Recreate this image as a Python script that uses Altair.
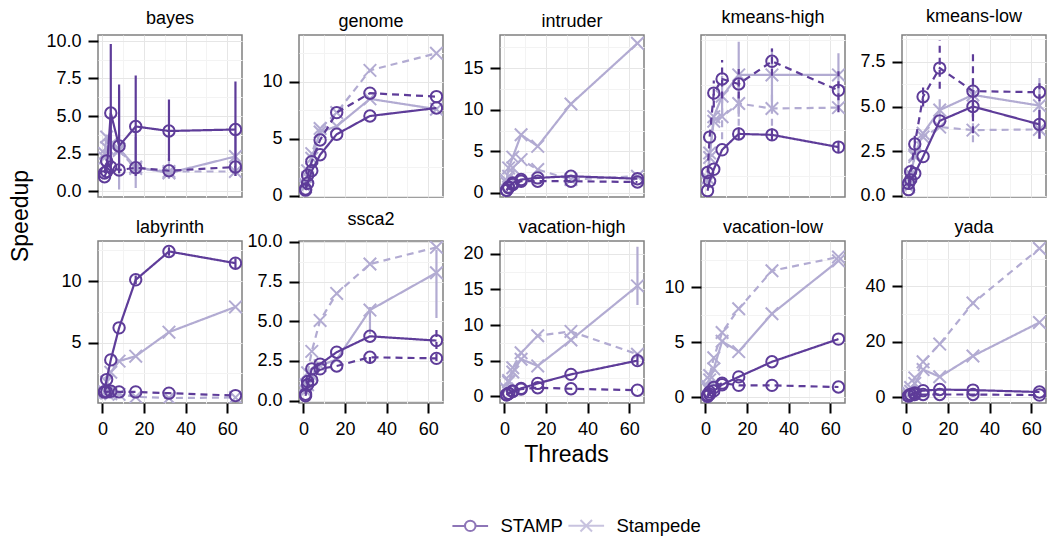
import math
import altair as alt
import pandas as pd

# ---------------- data ----------------
THREADS = [1, 2, 4, 8, 16, 32, 64]
BENCHMARKS = ["bayes", "genome", "intruder", "kmeans-high", "kmeans-low",
              "labyrinth", "ssca2", "vacation-high", "vacation-low", "yada"]
SYSTEMS = ["STAMP", "Stampede"]
CONFIGS = ["first", "second"]          # drawn solid / dashed

bayes = {
    "STAMP first":     [0.95, 1.3, 5.2, 3.0, 4.3, 4.0, 4.1],
    "STAMP second":    [1.2, 2.0, 1.6, 1.4, 1.55, 1.35, 1.6],
    "Stampede first":  [2.5, 3.6, 3.1, 2.8, 1.6, 1.2, 2.3],
    "Stampede second": [2.2, 2.9, 3.0, 2.7, 1.5, 1.3, 1.3],
}
genome = {
    "STAMP first":     [0.5, 1.1, 2.2, 3.6, 5.4, 7.0, 7.7],
    "STAMP second":    [0.6, 1.8, 3.0, 4.9, 7.3, 9.0, 8.7],
    "Stampede first":  [0.8, 1.6, 3.3, 5.6, 6.1, 8.5, 7.6],
    "Stampede second": [1.0, 2.2, 3.7, 5.9, 7.3, 11.0, 12.5],
}
intruder = {
    "STAMP first":     [0.3, 0.7, 1.2, 1.6, 1.8, 2.0, 1.7],
    "STAMP second":    [0.3, 0.6, 1.0, 1.4, 1.4, 1.4, 1.3],
    "Stampede first":  [1.5, 3.0, 4.3, 7.0, 5.6, 10.7, 18.0],
    "Stampede second": [1.2, 2.0, 3.0, 4.0, 2.8, 1.6, 2.0],
}
kmeans_high = {
    "STAMP first":     [0.17, 0.38, 0.64, 1.07, 1.42, 1.40, 1.13],
    "STAMP second":    [0.57, 1.35, 2.32, 2.63, 2.52, 3.02, 2.38],
    "Stampede first":  [0.35, 0.9, 1.8, 2.25, 2.72, 2.72, 2.72],
    "Stampede second": [0.45, 1.0, 1.7, 1.8, 2.09, 1.98, 2.0],
}
kmeans_low = {
    "STAMP first":     [0.35, 0.9, 1.25, 2.2, 4.2, 5.0, 4.0],
    "STAMP second":    [0.7, 1.35, 2.9, 5.55, 7.15, 5.86, 5.8],
    "Stampede first":  [0.5, 1.1, 2.3, 3.5, 4.8, 5.65, 5.05],
    "Stampede second": [0.6, 1.2, 2.2, 3.3, 3.85, 3.68, 3.72],
}
labyrinth = {
    "STAMP first":     [1.0, 2.0, 3.6, 6.2, 10.1, 12.4, 11.45],
    "STAMP second":    [1.0, 1.0, 1.05, 1.0, 1.0, 0.9, 0.7],
    "Stampede first":  [1.0, 1.8, 2.6, 3.5, 3.9, 5.85, 7.9],
    "Stampede second": [1.0, 0.9, 0.85, 0.8, 0.6, 0.5, 0.55],
}
ssca2 = {
    "STAMP first":     [0.3, 1.0, 2.0, 2.3, 3.05, 4.05, 3.78],
    "STAMP second":    [0.4, 1.2, 1.3, 2.0, 2.18, 2.73, 2.66],
    "Stampede first":  [0.6, 1.0, 1.6, 2.2, 2.6, 5.7, 8.05],
    "Stampede second": [1.0, 1.75, 3.1, 5.05, 6.75, 8.6, 9.65],
}
vacation_high = {
    "STAMP first":     [0.2, 0.4, 0.7, 1.1, 1.8, 3.07, 5.0],
    "STAMP second":    [0.2, 0.4, 0.7, 1.0, 1.2, 1.05, 0.85],
    "Stampede first":  [1.0, 2.0, 3.4, 5.2, 4.26, 7.9, 15.5],
    "Stampede second": [1.0, 2.2, 4.0, 6.1, 8.5, 9.1, 5.9],
}
vacation_low = {
    "STAMP first":     [0.1, 0.3, 0.6, 1.16, 1.87, 3.24, 5.3],
    "STAMP second":    [0.2, 0.5, 0.9, 1.3, 1.1, 1.1, 0.95],
    "Stampede first":  [0.8, 1.6, 2.6, 5.1, 4.16, 7.6, 12.4],
    "Stampede second": [1.0, 2.0, 3.6, 5.9, 8.05, 11.5, 12.75],
}
yada = {
    "STAMP first":     [0.5, 1.0, 1.6, 2.4, 2.8, 2.6, 1.9],
    "STAMP second":    [0.5, 0.8, 1.0, 1.0, 1.0, 1.0, 0.8],
    "Stampede first":  [1.0, 2.2, 5.0, 10.0, 7.4, 14.9, 27.0],
    "Stampede second": [1.5, 3.5, 7.0, 12.8, 19.2, 34.0, 53.7],
}
SPEEDUP = {
    "bayes": bayes, "genome": genome, "intruder": intruder,
    "kmeans-high": kmeans_high, "kmeans-low": kmeans_low,
    "labyrinth": labyrinth, "ssca2": ssca2, "vacation-high": vacation_high,
    "vacation-low": vacation_low, "yada": yada,
}

# error bars (low, high); None = bar hidden inside the marker
bayes_err = {
    "STAMP first":    [None, None, (1.0, 9.8), (1.2, 7.1), (1.0, 7.7), (2.0, 6.1), (1.0, 7.3)],
    "Stampede first": [None, None, (1.5, 5.5), (0.1, 6.7), (0.2, 3.6), (0.8, 2.2), (1.0, 3.9)],
}
kmeans_high_err = {
    "STAMP first":     [None, None, None, None, (1.3, 1.56), (1.28, 1.54), (1.0, 1.26)],
    "STAMP second":    [None, None, (2.0, 2.6), (2.2, 3.05), (2.2, 2.85), (2.7, 3.3), (1.9, 2.8)],
    "Stampede first":  [None, None, None, (1.8, 2.7), (1.8, 3.45), (2.0, 3.3), (2.0, 3.2)],
    "Stampede second": [None, None, None, (1.3, 2.3), (1.6, 2.5), (1.6, 2.4), None],
}
kmeans_low_err = {
    "STAMP first":     [None, None, None, None, None, (4.4, 5.6), (3.2, 4.8)],
    "STAMP second":    [None, None, (2.3, 3.4), (5.0, 6.2), (6.0, 8.7), (3.5, 8.2), (5.3, 6.3)],
    "Stampede first":  [None, None, None, None, (4.2, 5.4), (4.5, 6.6), (4.2, 6.6)],
    "Stampede second": [None, None, None, None, None, (3.0, 4.3), (3.2, 4.2)],
}
labyrinth_err = {
    "STAMP first": [None, None, None, None, (9.75, 10.45), (12.05, 12.75), (11.05, 11.85)],
}
ssca2_err = {
    "STAMP second":   [None, None, None, None, None, (2.3, 3.1), (2.5, 4.5)],
    "Stampede first": [None, None, None, None, None, (4.2, 5.9), (5.2, 9.5)],
}
vacation_high_err = {
    "STAMP first":    [None, None, None, None, None, None, (4.4, 6.0)],
    "Stampede first": [None, None, None, None, None, None, (12.8, 21.0)],
}
ERRORS = {
    "bayes": bayes_err, "kmeans-high": kmeans_high_err, "kmeans-low": kmeans_low_err,
    "labyrinth": labyrinth_err, "ssca2": ssca2_err, "vacation-high": vacation_high_err,
}

rows = []
for bench in BENCHMARKS:
    for key, vals in SPEEDUP[bench].items():
        system, config = key.split(" ")
        errs = ERRORS.get(bench, {}).get(key, [None] * len(THREADS))
        for t, v, e in zip(THREADS, vals, errs):
            rows.append(dict(bench=bench, system=system, config=config, threads=t,
                             speedup=v, lo=(e[0] if e else None), hi=(e[1] if e else None)))
df = pd.DataFrame(rows)

# ---------------- style ----------------
FONT = "Liberation Sans"
SYSTEM_COLORS = ["#5E3C99", "#B2ABD2"]
GRID_MAJOR = "#E6E6E6"
GRID_MINOR = "#F3F3F3"
BORDER = "#808080"
X_PATH = "M-1.1,-1.1L1.1,1.1M-1.1,1.1L1.1,-1.1"
CIRCLE_LEG = "M-3.4,0H-1M1,0H3.4M1,0A1,1,0,1,1,-1,0A1,1,0,1,1,1,0Z"
X_LEG = "M-3.4,0H3.4M-1.1,-1.1L1.1,1.1M-1.1,1.1L1.1,-1.1"

X_DOMAIN = [-2.15, 67.15]
# y scale: (min, max, major step)
Y_SCALE = {
    "bayes": (-0.4, 10.4, 2.5), "genome": (-0.1, 14.1, 5), "intruder": (-0.5, 19.0, 5),
    "kmeans-high": (0.03, 3.6, 1), "kmeans-low": (-0.06, 9.0, 2.5),
    "labyrinth": (0.1, 13.25, 5), "ssca2": (-0.15, 10.05, 2.5),
    "vacation-high": (-0.95, 21.8, 5), "vacation-low": (-0.5, 14.2, 5),
    "yada": (-2.06, 56.4, 20),
}
PW, PH = 144, 162
LW = 2.2
LABEL_SIZE = 18


def panel(idx, bench):
    d = df[df.bench == bench]
    lo_d, hi_d, major = Y_SCALE[bench]
    minor = major / 2
    vals = [round(k * minor, 6) for k in range(math.ceil(lo_d / minor - 1e-9),
                                                math.floor(hi_d / minor + 1e-9) + 1)]
    is_major = f"abs(datum.value / {major} - round(datum.value / {major})) < 0.001"
    fmt = ".1f" if major == 2.5 else "d"
    y_axis = alt.Axis(values=vals, format=fmt, title=None, labelOverlap=False, labelFlush=False,
                      labelExpr=f"({is_major}) ? datum.label : ''",
                      tickColor={"condition": {"test": is_major, "value": "black"}, "value": "transparent"},
                      gridColor={"condition": {"test": is_major, "value": GRID_MAJOR}, "value": GRID_MINOR})
    xmaj = "datum.value % 20 == 0"
    bottom = idx >= 5
    if bottom:
        x_kwargs = dict(labelExpr=f"({xmaj}) ? datum.label : ''",
                        tickColor={"condition": {"test": xmaj, "value": "black"}, "value": "transparent"})
        if bench == "vacation-high":
            x_kwargs.update(title="Threads", titleFontSize=23, titlePadding=5, titleX=66)
        else:
            x_kwargs.update(title=None)
    else:
        x_kwargs = dict(labels=False, ticks=False, title=None)
    x_axis = alt.Axis(values=list(range(0, 61, 10)), labelOverlap=False, labelFlush=False,
                      gridColor={"condition": {"test": xmaj, "value": GRID_MAJOR}, "value": GRID_MINOR},
                      **x_kwargs)
    xs = alt.Scale(domain=X_DOMAIN, nice=False, zero=False)
    ys = alt.Scale(domain=[lo_d, hi_d], nice=False, zero=False)
    x = alt.X("threads:Q", scale=xs, axis=x_axis)
    color = alt.Color("system:N", scale=alt.Scale(domain=SYSTEMS, range=SYSTEM_COLORS), legend=None)
    dash = alt.StrokeDash("config:N", scale=alt.Scale(domain=CONFIGS, range=[[1, 0], [7, 5]]), legend=None)
    shape = alt.Shape("system:N", scale=alt.Scale(domain=SYSTEMS, range=["circle", X_PATH]), legend=None)

    layers = []
    for system in ["Stampede", "STAMP"]:
        base = alt.Chart(d).transform_filter(alt.datum.system == system)
        layers.append(base.transform_filter("isValid(datum.lo)").mark_rule(strokeWidth=LW, clip=True).encode(
            x=x, y=alt.Y("lo:Q", scale=ys, axis=y_axis), y2="hi:Q", color=color, strokeDash=dash))
        layers.append(base.mark_line(strokeWidth=LW, clip=True).encode(
            x=x, y=alt.Y("speedup:Q", scale=ys, axis=y_axis), color=color, strokeDash=dash,
            detail="config:N"))
        layers.append(base.mark_point(filled=False, size=130, strokeWidth=2, opacity=1, clip=True).encode(
            x=x, y=alt.Y("speedup:Q", scale=ys, axis=y_axis), color=color, shape=shape))
    return alt.layer(*layers).properties(
        width=PW, height=PH,
        title=alt.TitleParams(bench, fontSize=18, font=FONT, fontWeight="normal", color="black", offset=4))


grid = alt.concat(*[panel(i, b) for i, b in enumerate(BENCHMARKS)], columns=5,
                  spacing={"row": 44, "column": 57}).properties(align="all", bounds="flush")

speedup_label = alt.Chart(pd.DataFrame({"label": ["Speedup"]})).mark_text(
    angle=270, fontSize=23, font=FONT, color="black").encode(
    x=alt.value(15), y=alt.value(181), text="label:N").properties(
    width=30, height=360, view=alt.ViewBackground(stroke="transparent"))

LEGEND_STYLE = dict(title=None, orient="none", direction="horizontal",
                    legendX=455, legendY=38, symbolSize=110, symbolStrokeWidth=2,
                    labelFontSize=18.5, labelFont=FONT, labelColor="black",
                    labelOffset=21, columnPadding=1, padding=0)
legend_chart = alt.Chart(pd.DataFrame({"system": SYSTEMS})).mark_point(
    filled=False, strokeWidth=2, clip=True).encode(
    x=alt.value(-50), y=alt.value(-50),
    color=alt.Color("system:N", scale=alt.Scale(domain=SYSTEMS, range=SYSTEM_COLORS),
                    legend=alt.Legend(**LEGEND_STYLE)),
    shape=alt.Shape("system:N", scale=alt.Scale(domain=SYSTEMS, range=[CIRCLE_LEG, X_LEG]),
                    legend=alt.Legend(**LEGEND_STYLE)),
).properties(width=20, height=40, view=alt.ViewBackground(stroke="transparent"))

chart = alt.vconcat(
    alt.hconcat(speedup_label, grid, spacing=8),
    legend_chart, spacing=10,
).resolve_scale(shape="independent", color="independent").resolve_legend(
    shape="independent", color="independent"
).properties(
    padding={"left": 5, "top": 7, "right": 2, "bottom": 0},
    background="white",
).configure_view(
    stroke=BORDER, strokeWidth=1.5
).configure_axis(
    domain=False, grid=True, gridWidth=1, labelFont=FONT, labelFontSize=LABEL_SIZE, labelColor="black",
    tickWidth=2, tickSize=10, labelPadding=7, titleFont=FONT, titleFontWeight="normal",
    titleColor="black"
)

chart.save("out.html", embed_options={"renderer": "svg", "actions": False})
